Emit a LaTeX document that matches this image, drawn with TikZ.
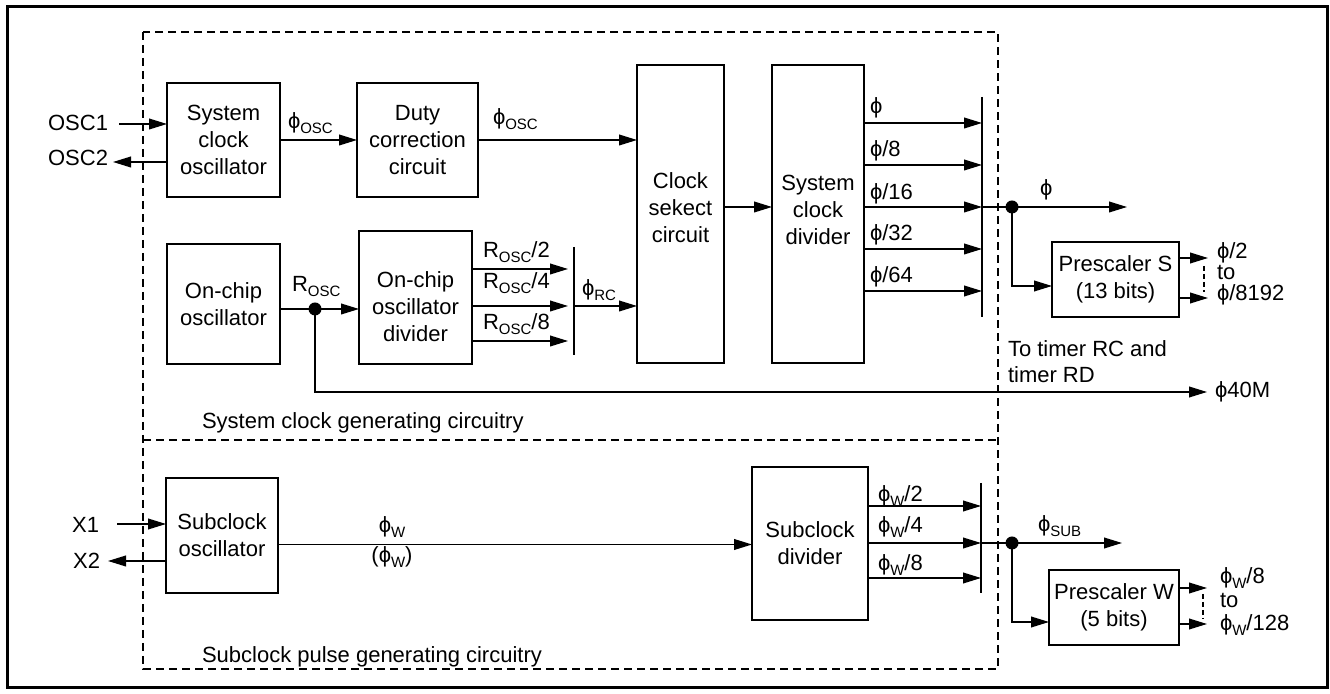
\documentclass[tikz,border=0pt]{standalone}
\usepackage{fontspec}
\setmainfont{Liberation Sans}
\usetikzlibrary{arrows.meta}
% lowered, smaller subscript text
\newcommand{\sbs}[1]{\raisebox{-2.2pt}{\fontsize{7.5}{8}\selectfont #1}}
% closed-loop phi used for clock names
\newcommand{\ph}{\symbol{"03D5}}

\begin{document}
\begin{tikzpicture}[x=0.5pt,y=-0.5pt,
  every node/.style={font=\fontsize{11}{13.5}\selectfont, inner sep=0pt, outer sep=0pt},
  blk/.style={draw, line width=1.25pt, align=center},
  txt/.style={align=center},
  lbl/.style={anchor=base west},
  wire/.style={line width=0.65pt},
  arr/.style={wire, -{Triangle[length=9pt,width=5.4pt]}},
  region/.style={line width=0.6pt, dash pattern=on 4pt off 2.5pt},
  tick/.style={line width=0.6pt, dash pattern=on 2.5pt off 1.5pt},
  bus/.style={line width=0.75pt},
  junction/.style={circle, fill, minimum size=6.5pt, inner sep=0pt},
]
\useasboundingbox (0,0) rectangle (1330,694);
\draw[line width=1.5pt] (7,7) rectangle (1327,688);

% circuitry regions
\draw[region] (143,32) rectangle (998,669);
\draw[region] (143,440) -- (998,440);
\node[lbl] (regsys) at (202,429) {System clock generating circuitry};
\node[lbl] (regsub) at (202,663) {Subclock pulse generating circuitry};

% ---------- blocks ----------
\node[blk, minimum width=56.5pt, minimum height=57pt] (sysosc) at (223.5,140) {System\\clock\\oscillator};
\node[blk, minimum width=60.5pt, minimum height=57pt] (duty) at (417.5,140) {Duty\\correction\\circuit};
\node[blk, minimum width=43.5pt, minimum height=149pt] (clksel) at (680.5,214) {};
\node[txt] (clksel-t) at (680.5,208) {Clock\\sekect\\circuit};
\node[blk, minimum width=46pt, minimum height=149pt] (sysdiv) at (818,214) {};
\node[txt] (sysdiv-t) at (818,210) {System\\clock\\divider};
\node[blk, minimum width=56.5pt, minimum height=60pt] (onchip) at (223.5,304) {On-chip\\oscillator};
\node[blk, minimum width=56.5pt, minimum height=66.5pt] (ocdiv) at (415.5,297.5) {};
\node[txt] (ocdiv-t) at (415.5,307) {On-chip\\oscillator\\divider};
\node[blk, minimum width=63.5pt, minimum height=37.5pt] (presS) at (1115.5,279.5) {Prescaler S\\(13 bits)};
\node[blk, minimum width=56pt, minimum height=57.5pt] (subosc) at (222,535.5) {Subclock\\oscillator};
\node[blk, minimum width=58pt, minimum height=76.5pt] (subdiv) at (810,543.5) {Subclock\\divider};
\node[blk, minimum width=65pt, minimum height=37.5pt] (presW) at (1114,607.5) {Prescaler W\\(5 bits)};

% ---------- system clock oscillator pins ----------
\node[anchor=east] (osc1) at (108,123) {OSC1};
\node[anchor=east] (osc2) at (108,158) {OSC2};
\coordinate (osc1-s) at (119,124);
\coordinate (osc2-e) at (113,162);
\draw[arr] (osc1-s) -- (osc1-s -| sysosc.west);
\draw[arr] (osc2-e -| sysosc.west) -- (osc2-e);

% phi_OSC path
\draw[arr] (sysosc.east) -- (duty.west);
\node[lbl] (phiosc1) at (288,129) {\ph\sbs{OSC}};
\draw[arr] (duty.east) -- (duty.east -| clksel.west);
\node[lbl] (phiosc2) at (493,125) {\ph\sbs{OSC}};
\draw[arr] ([yshift=3.5pt]clksel.east) -- ([yshift=3.5pt]clksel.east -| sysdiv.west);

% ---------- system clock divider outputs ----------
\coordinate (barS-top) at (982,97);
\coordinate (barS-bot) at (982,317);
\draw[bus] (barS-top) -- (barS-bot);
\coordinate (so1) at (982,123);
\coordinate (so2) at (982,165);
\coordinate (so3) at (982,207);
\coordinate (so4) at (982,249);
\coordinate (so5) at (982,291);
\foreach \k in {1,...,5} \draw[arr] (sysdiv.east |- so\k) -- (so\k);
\node[lbl] (lso1) at (870,114) {\ph};
\node[lbl] (lso2) at (870,157) {\ph/8};
\node[lbl] (lso3) at (870,200) {\ph/16};
\node[lbl] (lso4) at (870,241) {\ph/32};
\node[lbl] (lso5) at (870,283) {\ph/64};

\node[junction] (dotS) at (1012,207) {};
\coordinate (phiS-end) at (1127,207);
\draw[wire] (so3) -- (dotS.center);
\draw[arr] (dotS.center) -- (phiS-end);
\node[lbl] (lphiS) at (1040,196) {\ph};
\draw[arr] (dotS.center) |- ([yshift=-3.25pt]presS.west);

% Prescaler S outputs
\coordinate (sq1) at (1208,258);
\coordinate (sq2) at (1208,298);
\draw[arr] (presS.east |- sq1) -- (sq1);
\draw[arr] (presS.east |- sq2) -- (sq2);
\draw[tick] ([shift={(-4,8)}]sq1) -- ([shift={(-4,-6)}]sq2);
\node[lbl] (lsq1) at (1217,259) {\ph/2};
\node[lbl] (lsqto) at (1217,280) {to};
\node[lbl] (lsq2) at (1217,301) {\ph/8192};

\node[anchor=north west, align=left] (timers) at (1008,341) {To timer RC and\\[-0.6pt]timer RD};

% ---------- on-chip oscillator ----------
\node[junction] (dotR) at (315,309) {};
\draw[wire] (onchip.east |- dotR) -- (dotR.center);
\draw[arr] (dotR.center) -- (dotR -| ocdiv.west);
\node[lbl] (lrosc) at (292,292) {R\sbs{OSC}};

\coordinate (barR-top) at (574,247);
\coordinate (barR-bot) at (574,355);
\draw[bus] (barR-top) -- (barR-bot);
\coordinate (r1) at (574,269);
\coordinate (r2) at (574,306);
\coordinate (r3) at (574,341);
\foreach \k in {1,2,3} \draw[arr] (ocdiv.east |- r\k) -- ([xshift=-3pt]r\k);
\node[lbl] (lr1) at (483,258) {R\sbs{OSC}/2};
\node[lbl] (lr2) at (483,289) {R\sbs{OSC}/4};
\node[lbl] (lr3) at (483,330) {R\sbs{OSC}/8};
\draw[arr] (r2) -- (r2 -| clksel.west);
\node[lbl] (lphirc) at (582,296) {\ph\sbs{RC}};

\coordinate (c40M) at (1207,392);
\draw[arr] (dotR.center) |- (c40M);
\node[anchor=west] (l40M) at (1215,392) {\ph40M};

% ---------- subclock ----------
\node[anchor=east] (x1) at (99,525) {X1};
\node[anchor=east] (x2) at (100,561) {X2};
\coordinate (x1s) at (117,524);
\coordinate (x2e) at (108,561);
\draw[arr] (x1s) -- (x1s -| subosc.west);
\draw[arr] (x2e -| subosc.west) -- (x2e);

\coordinate (w-in) at ([yshift=-0.5pt]subdiv.west);
\draw[arr] (w-in -| subosc.east) -- (w-in);
\node[anchor=base] (lphiw) at (392,533) {\ph\sbs{W}};
\node[anchor=base] (lphiw2) at (392,563) {(\ph\sbs{W})};

\coordinate (barW-top) at (981,483);
\coordinate (barW-bot) at (981,593);
\draw[bus] (barW-top) -- (barW-bot);
\coordinate (sw1) at (981,506);
\coordinate (sw2) at (981,543);
\coordinate (sw3) at (981,578);
\foreach \k in {1,2,3} \draw[arr] (subdiv.east |- sw\k) -- (sw\k);
\node[lbl] (lsw1) at (878,502) {\ph\sbs{W}/2};
\node[lbl] (lsw2) at (878,533) {\ph\sbs{W}/4};
\node[lbl] (lsw3) at (878,571) {\ph\sbs{W}/8};

\node[junction] (dotW) at (1012,543) {};
\coordinate (phiW-end) at (1122,543);
\draw[wire] (sw2) -- (dotW.center);
\draw[arr] (dotW.center) -- (phiW-end);
\node[lbl] (lphisub) at (1038,532) {\ph\sbs{SUB}};
\draw[arr] (dotW.center) |- ([yshift=-7.25pt]presW.west);

% Prescaler W outputs
\coordinate (wq1) at (1207,588);
\coordinate (wq2) at (1207,624);
\draw[arr] (presW.east |- wq1) -- (wq1);
\draw[arr] (presW.east |- wq2) -- (wq2);
\draw[tick] ([shift={(-4,6)}]wq1) -- ([shift={(-4,-5)}]wq2);
\node[lbl] (lwq1) at (1220,584) {\ph\sbs{W}/8};
\node[lbl] (lwqto) at (1220,608) {to};
\node[lbl] (lwq2) at (1220,631) {\ph\sbs{W}/128};
\end{tikzpicture}
\end{document}
